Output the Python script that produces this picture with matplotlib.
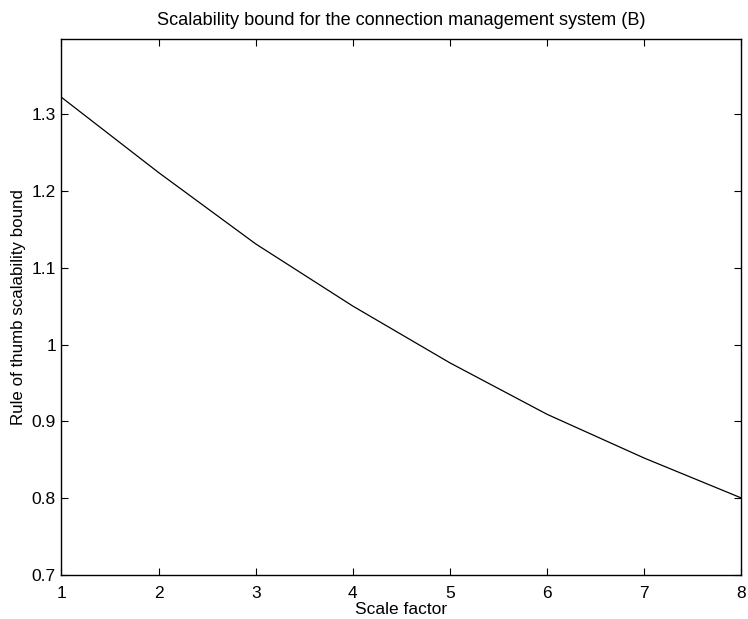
from matplotlib import pyplot as plt

plt.rcParams['font.family'] = ['Liberation Sans', 'DejaVu Sans']

scale = [1, 2, 3, 4, 5, 6, 7, 8]
bound = [1.322, 1.224, 1.131, 1.050, 0.976, 0.909, 0.852, 0.800]
yticks = [0.7, 0.8, 0.9, 1.0, 1.1, 1.2, 1.3]
ylabels = ["0.7", "0.8", "0.9", "1", "1.1", "1.2", "1.3"]

fig = plt.figure(figsize=(7.48, 6.19), dpi=100)
ax = fig.add_axes([0.0822, 0.0714, 0.9091, 0.8656])
ax.plot(scale, bound, color="black", linewidth=0.9)

ax.set_xlim(1, 8)
ax.set_ylim(0.7, 1.398)
ax.set_xticks(scale)
ax.set_yticks(yticks)
ax.set_yticklabels(ylabels)
ax.tick_params(direction="in", top=True, right=True, length=5, width=0.8,
               labelsize=12.5)
ax.tick_params(axis="x", pad=8)
ax.tick_params(axis="y", pad=4)
for s in ax.spines.values():
    s.set_linewidth(1.0)

ax.set_title("Scalability bound for the connection management system (B)",
             fontsize=13.1, pad=10)
ax.set_xlabel("Scale factor", fontsize=12.5, labelpad=1)
ax.set_ylabel("Rule of thumb scalability bound", fontsize=12.2, labelpad=4)

fig.savefig("out.png", dpi=100)
